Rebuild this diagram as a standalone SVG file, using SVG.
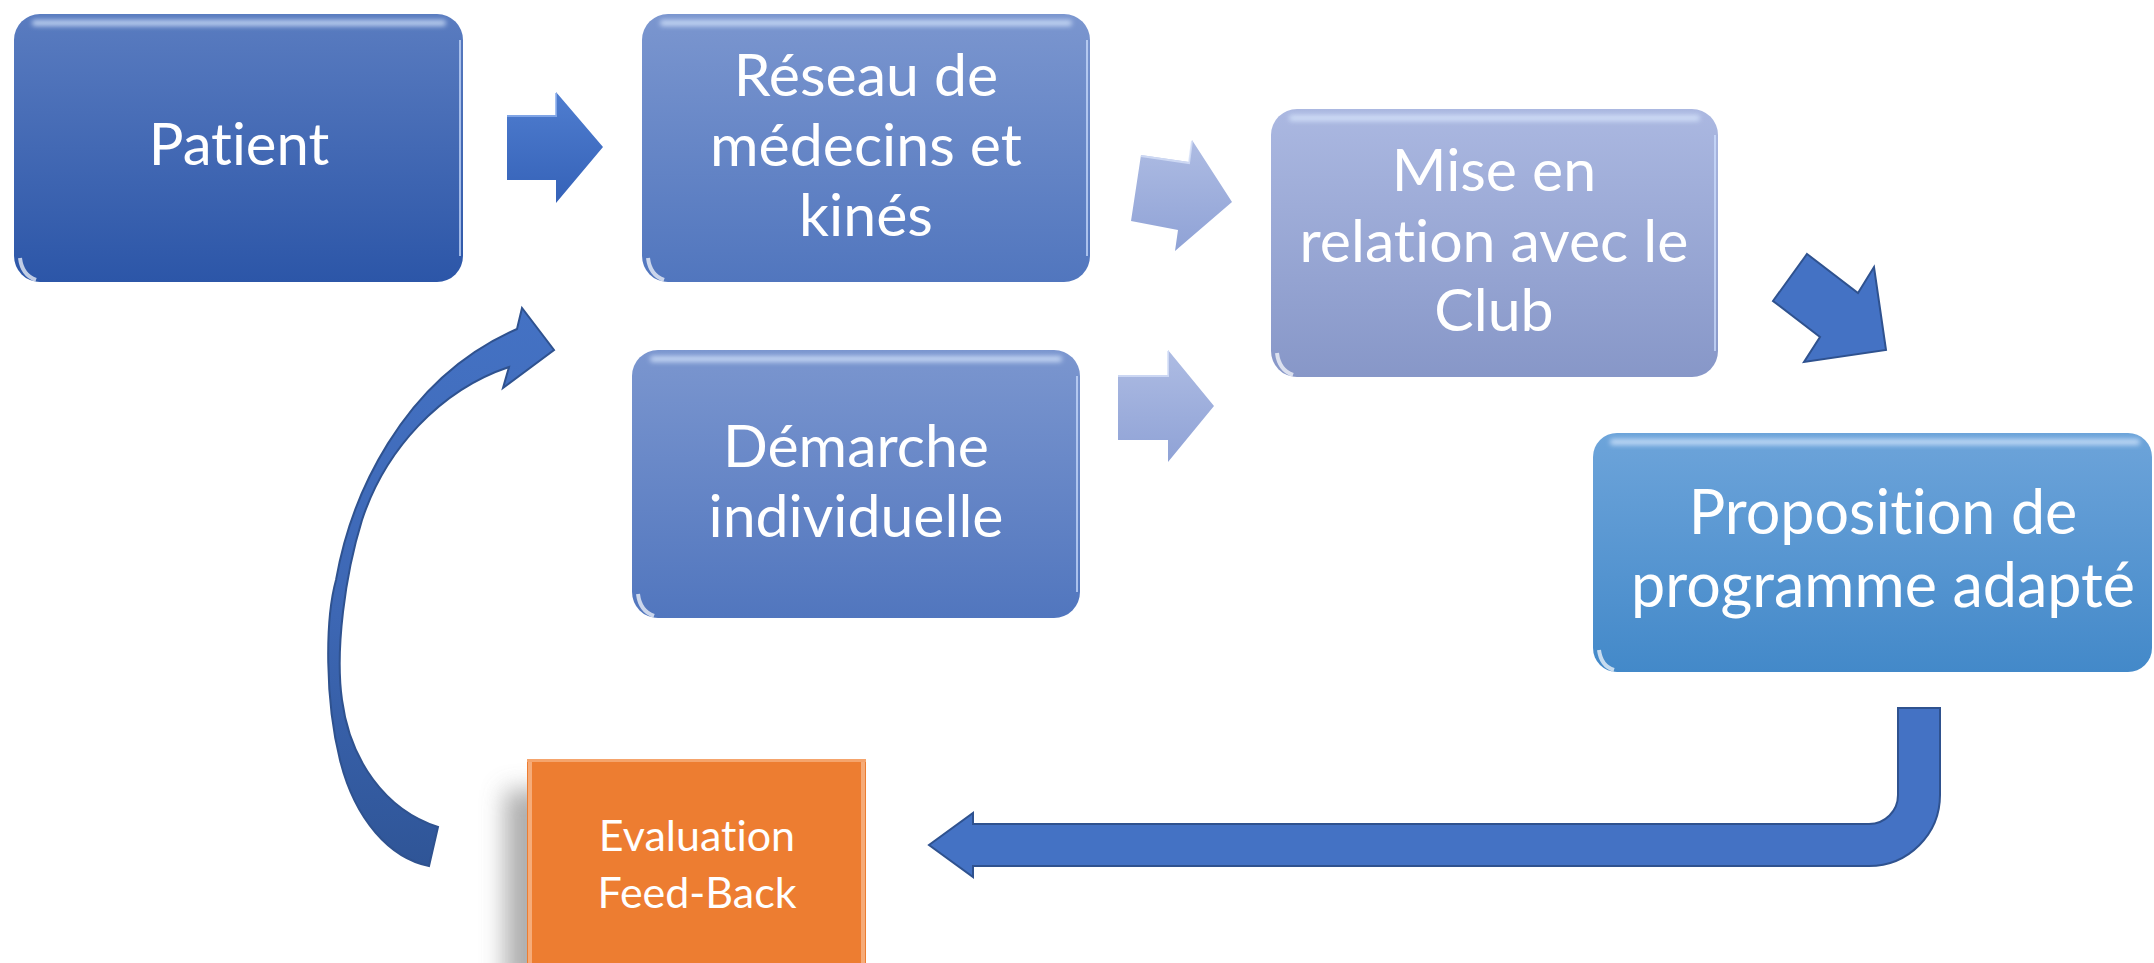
<svg xmlns="http://www.w3.org/2000/svg" width="2154" height="963" viewBox="0 0 2154 963">
<defs>
<linearGradient id="gPatient" x1="0" y1="0" x2="0" y2="1"><stop offset="0" stop-color="#5A7CC0"/><stop offset="1" stop-color="#2C56A8"/></linearGradient>
<linearGradient id="gReseau" x1="0" y1="0" x2="0" y2="1"><stop offset="0" stop-color="#7B96CF"/><stop offset="1" stop-color="#5176BE"/></linearGradient>
<linearGradient id="gMise" x1="0" y1="0" x2="0" y2="1"><stop offset="0" stop-color="#ABB8E1"/><stop offset="1" stop-color="#8797C8"/></linearGradient>
<linearGradient id="gProp" x1="0" y1="0" x2="0" y2="1"><stop offset="0" stop-color="#6DA4DA"/><stop offset="1" stop-color="#4389C9"/></linearGradient>
<linearGradient id="gArrowDark" x1="0" y1="0" x2="0" y2="1"><stop offset="0" stop-color="#4F7DCF"/><stop offset="1" stop-color="#3562B8"/></linearGradient>
<linearGradient id="gArrowLight" x1="0" y1="0" x2="0" y2="1"><stop offset="0" stop-color="#AEBCE3"/><stop offset="1" stop-color="#8FA2D6"/></linearGradient>
<linearGradient id="gCurve" x1="0" y1="0" x2="0" y2="1"><stop offset="0" stop-color="#4472C4"/><stop offset="0.55" stop-color="#3D67B4"/><stop offset="1" stop-color="#2F5597"/></linearGradient>
<filter id="blur3" x="-20%" y="-200%" width="140%" height="500%"><feGaussianBlur stdDeviation="2.5"/></filter>
<filter id="shadowBlur" x="-30%" y="-30%" width="160%" height="160%"><feGaussianBlur stdDeviation="12"/></filter>
<style>
.lbl{font-family:Lato,"Open Sans","Liberation Sans",sans-serif;fill:#FFFFFF;text-anchor:middle;font-variant-ligatures:none;font-feature-settings:"liga" 0,"clig" 0}
.hl{fill:#DDEBFF;opacity:0.75}
.edge{fill:none;stroke:#CFE0FF;stroke-width:2;opacity:0.7}
.arrowStroke{stroke:#2F528F;stroke-width:2;stroke-linejoin:miter}
</style>
</defs>
<rect width="2154" height="963" fill="#FFFFFF"/>

<g id="connectors">
<polygon points="507,115 556,115 556,92 603,147 556,203 556,180 507,180" fill="url(#gArrowDark)"/>
<polyline points="507,116 556,116 556,93" fill="none" stroke="#8FB0EC" stroke-width="2" opacity="0.8"/>
<polygon points="1141,155 1189,162 1192,140 1232,202 1175,251 1178,230 1131,221" fill="url(#gArrowLight)"/>
<polyline points="1141,156 1189,163 1192,141" fill="none" stroke="#D6E0F8" stroke-width="2" opacity="0.8"/>
<polygon points="1118,375 1168,375 1168,350 1214,406 1168,462 1168,440 1118,440" fill="url(#gArrowLight)"/>
<polyline points="1118,376 1168,376 1168,351" fill="none" stroke="#D6E0F8" stroke-width="2" opacity="0.8"/>
<polygon class="arrowStroke" points="1807,254 1858,293 1874,267 1886,350 1804,362 1820,337 1773,301" fill="#4472C4"/>
<path class="arrowStroke" d="M 1898,708 L 1940,708 L 1940,795 A 71 71 0 0 1 1869,866 L 973,866 L 973,877 L 929,845 L 973,813 L 973,824 L 1869,824 A 29 29 0 0 0 1898,795 Z" fill="#4472C4"/>
<path class="arrowStroke" d="M 429,866 C 390,858 355,820 340,760 C 325,700 325,620 336,580 C 350,500 400,380 517,329 L 522,308 L 554,350 L 503,388 L 509,367 C 440,390 385,450 362,520 C 345,575 335,650 342,700 C 350,760 385,810 438,827 Z" fill="url(#gCurve)"/>
</g>

<g id="node-patient">
<rect x="14" y="14" width="449" height="268" rx="26" fill="url(#gPatient)"/>
<rect class="hl" x="32" y="20" width="414" height="6" rx="3" filter="url(#blur3)"/>
<path class="edge" d="M 460,40 L 460,256"/>
<path d="M 20,258 Q 22,275 36,280" fill="none" stroke="#FFFFFF" stroke-width="4" opacity="0.7"/>
<text class="lbl" x="239" y="165" font-size="58">Patient</text>
</g>

<g id="node-reseau">
<rect x="642" y="14" width="448" height="268" rx="26" fill="url(#gReseau)"/>
<rect class="hl" x="660" y="20" width="412" height="6" rx="3" filter="url(#blur3)"/>
<path class="edge" d="M 1087,40 L 1087,256"/>
<path d="M 648,258 Q 650,275 664,280" fill="none" stroke="#FFFFFF" stroke-width="4" opacity="0.7"/>
<text class="lbl" x="866" y="96" font-size="59">Réseau de</text>
<text class="lbl" x="866" y="166" font-size="59">médecins et</text>
<text class="lbl" x="866" y="236" font-size="59">kinés</text>
</g>

<g id="node-demarche">
<rect x="632" y="350" width="448" height="268" rx="26" fill="url(#gReseau)"/>
<rect class="hl" x="650" y="356" width="412" height="6" rx="3" filter="url(#blur3)"/>
<path class="edge" d="M 1077,376 L 1077,592"/>
<path d="M 638,594 Q 640,611 654,616" fill="none" stroke="#FFFFFF" stroke-width="4" opacity="0.7"/>
<text class="lbl" x="856" y="467" font-size="59">Démarche</text>
<text class="lbl" x="856" y="537" font-size="59">individuelle</text>
</g>

<g id="node-mise">
<rect x="1271" y="109" width="447" height="268" rx="26" fill="url(#gMise)"/>
<rect class="hl" x="1289" y="115" width="411" height="6" rx="3" filter="url(#blur3)"/>
<path class="edge" d="M 1715,135 L 1715,351"/>
<path d="M 1277,353 Q 1279,370 1293,375" fill="none" stroke="#FFFFFF" stroke-width="4" opacity="0.7"/>
<text class="lbl" x="1494" y="191" font-size="59">Mise en</text>
<text class="lbl" x="1494" y="262" font-size="59">relation avec le</text>
<text class="lbl" x="1494" y="331" font-size="59">Club</text>
</g>

<g id="node-proposition">
<rect x="1593" y="433" width="559" height="239" rx="24" fill="url(#gProp)"/>
<rect class="hl" x="1610" y="439" width="530" height="6" rx="3" filter="url(#blur3)"/>
<path d="M 1599,650 Q 1601,666 1614,670" fill="none" stroke="#FFFFFF" stroke-width="4" opacity="0.7"/>
<text class="lbl" x="1883" y="534" font-size="61">Proposition de</text>
<text class="lbl" x="1883" y="607" font-size="61">programme adapté</text>
</g>

<g id="node-evaluation">
<rect x="505" y="790" width="330" height="200" fill="#9A9A9A" filter="url(#shadowBlur)" opacity="0.8"/>
<rect x="527" y="759" width="339" height="210" fill="#ED7D31"/>
<rect x="527" y="759" width="339" height="3" fill="#F5A46C"/>
<rect x="528" y="762" width="4" height="210" fill="#F6AB78"/>
<rect x="861" y="762" width="4" height="210" fill="#F6AB78"/>
<text class="lbl" x="697" y="851" font-size="43">Evaluation</text>
<text class="lbl" x="697" y="908" font-size="43">Feed-Back</text>
</g>
</svg>
